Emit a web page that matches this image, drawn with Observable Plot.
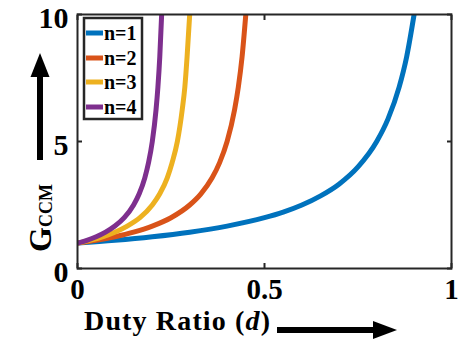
<!DOCTYPE html>
<html><head><meta charset="utf-8">
<script src="https://cdn.jsdelivr.net/npm/d3@7"></script>
<script src="https://cdn.jsdelivr.net/npm/@observablehq/plot@0.6"></script>
<style>
body{margin:0;background:#fff}
#chart{position:relative;width:458px;height:346px;overflow:hidden}
#chart svg text, #chart svg tspan{font-family:"Liberation Serif","Times New Roman",serif;font-weight:bold}
</style>
</head><body><div id="chart"></div>
<script>
const seriesNames = ["n=1", "n=2", "n=3", "n=4"];
const seriesColors = ["#0072BD", "#D95319", "#EDB120", "#7E2F8E"];

const d_n1 = [0, 0.1, 0.2, 0.3, 0.4, 0.5, 0.55, 0.6, 0.65, 0.7, 0.75, 0.8, 0.83, 0.86, 0.88, 0.9];
const g_n1 = [1, 1.11, 1.25, 1.43, 1.67, 2, 2.22, 2.5, 2.86, 3.33, 4, 5, 5.88, 7.14, 8.33, 10];
const d_n2 = [0, 0.05, 0.1, 0.15, 0.2, 0.25, 0.3, 0.33, 0.36, 0.38, 0.4, 0.42, 0.43, 0.44, 0.45];
const g_n2 = [1, 1.11, 1.25, 1.43, 1.67, 2, 2.5, 2.94, 3.57, 4.17, 5, 6.25, 7.14, 8.33, 10];
const d_n3 = [0, 0.033, 0.067, 0.1, 0.133, 0.167, 0.2, 0.22, 0.24, 0.253, 0.267, 0.28, 0.287, 0.293, 0.3];
const g_n3 = [1, 1.11, 1.25, 1.43, 1.67, 2, 2.5, 2.94, 3.57, 4.17, 5, 6.25, 7.14, 8.33, 10];
const d_n4 = [0, 0.025, 0.05, 0.075, 0.1, 0.125, 0.15, 0.165, 0.18, 0.19, 0.2, 0.21, 0.215, 0.22, 0.225];
const g_n4 = [1, 1.11, 1.25, 1.43, 1.67, 2, 2.5, 2.94, 3.57, 4.17, 5, 6.25, 7.14, 8.33, 10];

const xTicks = [0, 0.5, 1];
const xTickLabels = ["0", "0.5", "1"];
const yTicks = [0, 5, 10];
const yTickLabels = ["0", "5", "10"];
const xLabelMain = "Duty Ratio (";
const xLabelVar = "d";
const xLabelEnd = ")";
const yLabelMain = "G";
const yLabelSub = "CCM";

const dArrays = [d_n1, d_n2, d_n3, d_n4];
const gArrays = [g_n1, g_n2, g_n3, g_n4];
const rows = [];
seriesNames.forEach((name, k) => {
  dArrays[k].forEach((d, i) => rows.push({series: name, d, g: gArrays[k][i]}));
});

const FONT = "Liberation Serif, Times New Roman, serif";
const AX = "#262626";

const plot = Plot.plot({
  width: 458,
  height: 346,
  marginLeft: 77,
  marginRight: 7,
  marginTop: 14,
  marginBottom: 78,
  style: {fontFamily: FONT, fontWeight: "bold", background: "#fff", color: "#000", overflow: "visible"},
  x: {domain: [0, 1]},
  y: {domain: [0, 10]},
  color: {domain: seriesNames, range: seriesColors},
  marks: [
    Plot.line(rows, {x: "d", y: "g", z: "series", stroke: "series", strokeWidth: 5, curve: "monotone-x", clip: true, strokeLinecap: "butt"}),
    Plot.axisX({anchor: "bottom", ticks: xTicks, tickSize: -5, stroke: AX, strokeWidth: 2, tickFormat: () => "", label: null}),
    Plot.axisX({anchor: "top", ticks: xTicks, tickSize: -5, stroke: AX, strokeWidth: 2, tickFormat: () => "", label: null}),
    Plot.axisY({anchor: "left", ticks: yTicks, tickSize: -5, stroke: AX, strokeWidth: 2, tickFormat: () => "", label: null}),
    Plot.axisY({anchor: "right", ticks: yTicks, tickSize: -5, stroke: AX, strokeWidth: 2, tickFormat: () => "", label: null}),
    Plot.axisX({anchor: "bottom", ticks: xTicks, tickSize: 0, tickPadding: 10, fontSize: 29, fill: "#000", tickFormat: (d) => xTickLabels[xTicks.indexOf(d)], label: null}),
    Plot.axisY({anchor: "left", ticks: yTicks, tickSize: 0, tickPadding: 9, dy: 4, fontSize: 30, fill: "#000", tickFormat: (d) => yTickLabels[yTicks.indexOf(d)], label: null}),
    Plot.frame({stroke: AX, strokeWidth: 2})
  ]
});
document.getElementById("chart").appendChild(plot);

const svg = d3.select(plot);

const xl = svg.append("text")
  .attr("x", 84).attr("y", 330).attr("text-anchor", "start")
  .attr("font-size", 28).attr("fill", "#000")
  .attr("textLength", 186).attr("lengthAdjust", "spacing");
xl.append("tspan").text(xLabelMain);
xl.append("tspan").attr("font-style", "italic").text(xLabelVar);
xl.append("tspan").text(xLabelEnd);

svg.append("line").attr("x1", 277).attr("y1", 330).attr("x2", 376).attr("y2", 330)
  .attr("stroke", "#000").attr("stroke-width", 6);
svg.append("path").attr("d", "M373,321 L397,330 L373,339 Z").attr("fill", "#000");

const yl = svg.append("text")
  .attr("transform", "translate(51,252) rotate(-90)").attr("text-anchor", "start")
  .attr("fill", "#000");
yl.append("tspan").attr("font-size", 32).text(yLabelMain);
yl.append("tspan").attr("font-size", 18).attr("dy", 1).text(yLabelSub);

svg.append("line").attr("x1", 40).attr("y1", 160).attr("x2", 40).attr("y2", 74)
  .attr("stroke", "#000").attr("stroke-width", 6);
svg.append("path").attr("d", "M30.5,77 L40,53 L49.5,77 Z").attr("fill", "#000");

const lg = svg.append("g");
lg.append("rect").attr("x", 84).attr("y", 18).attr("width", 58).attr("height", 101)
  .attr("fill", "#fff").attr("stroke", AX).attr("stroke-width", 2.5);
const rowY = [33, 58, 82, 107];
seriesNames.forEach((name, i) => {
  lg.append("line").attr("x1", 86).attr("x2", 103).attr("y1", rowY[i]).attr("y2", rowY[i])
    .attr("stroke", seriesColors[i]).attr("stroke-width", 5);
  lg.append("text").attr("x", 104).attr("y", rowY[i] + 7).attr("text-anchor", "start")
    .attr("font-size", 20).attr("fill", "#000")
    .text(name);
});
</script>
</body></html>
